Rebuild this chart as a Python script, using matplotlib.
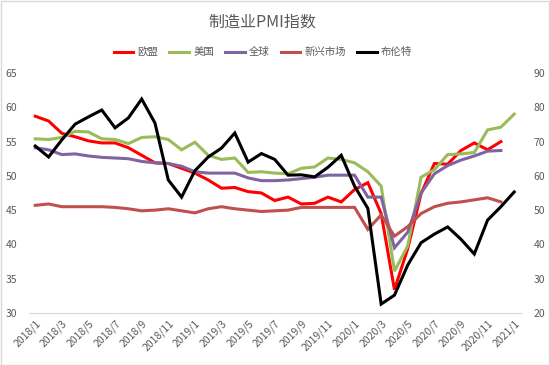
import matplotlib
matplotlib.use("Agg")
import matplotlib.pyplot as plt
from matplotlib.lines import Line2D
from matplotlib.patches import Rectangle

plt.rcParams['font.family'] = ['Noto Sans CJK SC', 'DejaVu Sans']

# ---- data ----
months = [f"{y}/{m}" for y in (2018, 2019, 2020) for m in range(1, 13)] + ["2021/1"]

eu = [58.7, 58.0, 56.2, 55.7, 55.1, 54.8, 54.8, 54.1, 53.0, 51.9, 51.8, 51.1,
      50.4, 49.4, 48.2, 48.3, 47.7, 47.5, 46.4, 46.9, 45.9, 46.0, 46.9, 46.2,
      48.0, 49.0, 44.5, 33.4, 39.4, 47.4, 51.8, 51.7, 53.7, 54.8, 53.8, 55.0]
us = [55.4, 55.3, 55.6, 56.5, 56.4, 55.4, 55.3, 54.7, 55.6, 55.7, 55.3, 53.8,
      54.9, 53.0, 52.4, 52.6, 50.5, 50.6, 50.4, 50.3, 51.1, 51.3, 52.6, 52.4,
      51.9, 50.6, 48.5, 36.1, 39.8, 49.8, 50.9, 53.1, 53.2, 53.4, 56.7, 57.1, 59.0]
world = [54.1, 53.8, 53.1, 53.2, 52.9, 52.7, 52.6, 52.5, 52.1, 51.9, 51.8, 51.4,
         50.6, 50.4, 50.4, 50.4, 49.7, 49.3, 49.3, 49.4, 49.6, 49.8, 50.1, 50.1,
         50.1, 46.9, 46.9, 39.5, 41.8, 47.5, 50.3, 51.5, 52.3, 52.9, 53.6, 53.7]
em = [45.7, 45.9, 45.5, 45.5, 45.5, 45.5, 45.4, 45.2, 44.9, 45.0, 45.2, 44.9,
      44.6, 45.2, 45.5, 45.2, 45.0, 44.8, 44.9, 45.0, 45.4, 45.4, 45.4, 45.4,
      45.4, 42.2, 44.3, 41.2, 42.6, 44.5, 45.5, 46.0, 46.2, 46.5, 46.8, 46.2]
brent = [68.7, 65.5, 70.5, 75.1, 77.2, 79.2, 74.0, 76.9, 82.4, 75.4, 58.8, 53.8,
         61.5, 65.5, 68.1, 72.5, 64.0, 66.5, 64.8, 60.2, 60.3, 59.7, 62.5, 66.0,
         57.0, 50.5, 22.6, 25.2, 34.0, 40.5, 43.0, 45.1, 41.5, 37.2, 47.1, 51.0, 55.3]

names = ["欧盟", "美国", "全球", "新兴市场", "布伦特"]
colors = ["#FF0000", "#9BBB59", "#8064A2", "#C0504D", "#000000"]

fig = plt.figure(figsize=(5.5, 3.65), dpi=100)
fig.patches.append(Rectangle((0.001, 0.001), 0.998, 0.997, transform=fig.transFigure,
                             fill=False, edgecolor="#D9D9D9", linewidth=1))
ax = fig.add_axes([0.052, 0.1425, 0.895, 0.6575])
ax2 = ax.twinx()

lw = 2.2
x = list(range(len(months)))
for series, c in zip([eu, us, world, em], colors[:4]):
    ax.plot(x[:len(series)], series, color=c, lw=lw, solid_joinstyle='miter')
ax2.plot(x[:len(brent)], brent, color=colors[4], lw=lw, solid_joinstyle='miter')

ax.set_xlim(-0.5, len(months) - 0.5)
ax.set_ylim(30, 65)
ax2.set_ylim(20, 90)
ax.set_yticks(range(30, 66, 5))
ax2.set_yticks(range(20, 91, 10))
ax.set_xticks(x[::2])
ax.set_xticklabels(months[::2], rotation=45, ha='right', va='top',
                   rotation_mode='anchor')

tc = "#595959"
for a in (ax, ax2):
    for s in a.spines.values():
        s.set_visible(False)
    a.tick_params(length=0, labelsize=7.5, labelcolor=tc)
ax.spines['bottom'].set_visible(True)
ax.spines['bottom'].set_color("#D9D9D9")
ax.tick_params(axis='y', pad=8)
ax2.tick_params(axis='y', pad=9)
ax.tick_params(axis='x', pad=4)

fig.text(0.476, 0.94, "制造业PMI指数", ha='center', va='center', fontsize=11.5, color=tc)
handles = [Line2D([0], [0], color=c, lw=lw) for c in colors]
fig.legend(handles, names, loc='center', bbox_to_anchor=(0.478, 0.857), ncol=5,
           frameon=False, fontsize=7.5, handlelength=1.9, handletextpad=0.4,
           columnspacing=1.05, labelcolor=tc)

fig.savefig("out.png", dpi=100)
